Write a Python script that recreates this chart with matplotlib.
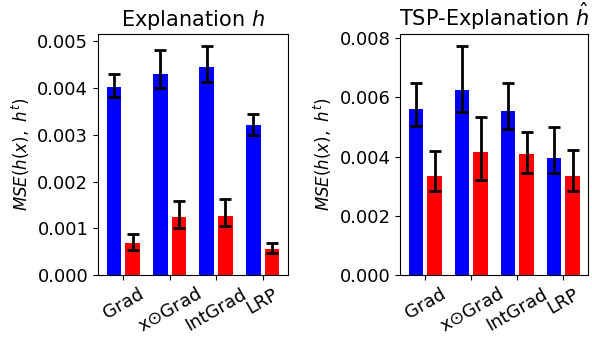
import matplotlib
matplotlib.use("Agg")
import matplotlib.pyplot as plt
import numpy as np

methods = ["Grad", r"x$\odot$Grad", "IntGrad", "LRP"]

# Explanation h
h_blue = [4.03e-3, 4.29e-3, 4.44e-3, 3.20e-3]
h_blue_lo = [3.80e-3, 4.01e-3, 4.12e-3, 2.99e-3]
h_blue_hi = [4.30e-3, 4.81e-3, 4.91e-3, 3.44e-3]
h_red = [0.68e-3, 1.25e-3, 1.27e-3, 0.56e-3]
h_red_lo = [0.54e-3, 1.00e-3, 1.04e-3, 0.48e-3]
h_red_hi = [0.88e-3, 1.59e-3, 1.63e-3, 0.69e-3]

# TSP-Explanation h-hat
t_blue = [5.60e-3, 6.24e-3, 5.53e-3, 3.94e-3]
t_blue_lo = [5.03e-3, 5.49e-3, 4.94e-3, 3.44e-3]
t_blue_hi = [6.48e-3, 7.75e-3, 6.49e-3, 5.00e-3]
t_red = [3.36e-3, 4.17e-3, 4.07e-3, 3.33e-3]
t_red_lo = [2.85e-3, 3.22e-3, 3.46e-3, 2.85e-3]
t_red_hi = [4.20e-3, 5.32e-3, 4.84e-3, 4.21e-3]


def yerr(mean, lo, hi):
    mean = np.array(mean)
    return [mean - np.array(lo), np.array(hi) - mean]


fig = plt.figure(figsize=(5.92, 3.37), dpi=100)
ax1 = fig.add_axes([0.1655, 0.184, 0.321, 0.715])
ax2 = fig.add_axes([0.676, 0.184, 0.318, 0.715])

x = np.arange(len(methods))
w = 0.32
err_kw = dict(elinewidth=2, capthick=2, ecolor="black")

panels = [
    (ax1, h_blue, h_blue_lo, h_blue_hi, h_red, h_red_lo, h_red_hi, r"Explanation $h$"),
    (ax2, t_blue, t_blue_lo, t_blue_hi, t_red, t_red_lo, t_red_hi, r"TSP-Explanation $\hat{h}$"),
]
for ax, b, blo, bhi, r, rlo, rhi, title in panels:
    ax.bar(x - 0.2, b, w, color="blue", yerr=yerr(b, blo, bhi), capsize=4, error_kw=err_kw)
    ax.bar(x + 0.2, r, w, color="red", yerr=yerr(r, rlo, rhi), capsize=4, error_kw=err_kw)
    ax.set_xticks(x)
    ax.set_xticklabels(methods, rotation=30, fontsize=13)
    ax.tick_params(axis="y", labelsize=13)
    ax.set_ylabel(r"$MSE(h(x),\ h^t)$", fontsize=12)
    ax.set_title(title, fontsize=15)

ax1.set_yticks([0, 0.001, 0.002, 0.003, 0.004, 0.005])
ax1.set_yticklabels(["0.000", "0.001", "0.002", "0.003", "0.004", "0.005"])
ax2.set_yticks([0, 0.002, 0.004, 0.006, 0.008])
ax2.set_yticklabels(["0.000", "0.002", "0.004", "0.006", "0.008"])

fig.savefig("out.png", dpi=100)
